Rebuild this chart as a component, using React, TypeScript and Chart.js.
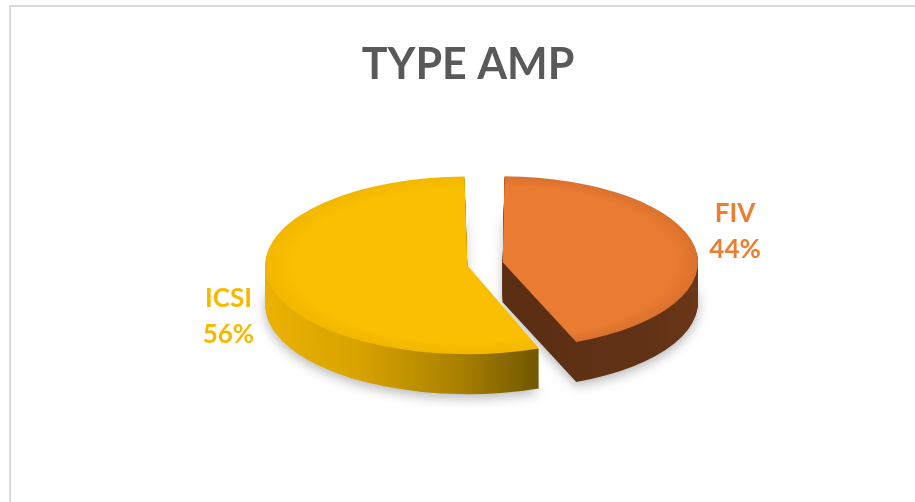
import React, { useEffect, useRef } from 'react';
import { Chart, registerables } from 'chart.js';

Chart.register(...registerables);

const chartTitle = 'TYPE AMP';
const categories = ['FIV', 'ICSI'];
const values = [44, 56];
const topColors = ['#E97B32', '#F9BF00'];
const rimColors = ['#D46C2C', '#F2B600'];
const labelColors = ['#ED7D31', '#F7B900'];

const TILT = 0.44;
const DEPTH = 40;
const PIE_SHIFT_X = 17;
const LABEL_GAP = 15;
const LABEL_Y = 0.9;

function sideFill(ctx: CanvasRenderingContext2D, i: number, cx: number, r: number) {
  if (i === 0) {
    const g = ctx.createLinearGradient(cx, 0, cx + r + 30, 0);
    g.addColorStop(0, '#5A2E13');
    g.addColorStop(0.7, '#623216');
    g.addColorStop(1, '#70391A');
    return g;
  }
  const g = ctx.createLinearGradient(cx - r - 30, 0, cx + 80, 0);
  g.addColorStop(0, '#EDB400');
  g.addColorStop(0.35, '#D9A300');
  g.addColorStop(0.7, '#A98000');
  g.addColorStop(1, '#6A5200');
  return g;
}

const pie3d = {
  id: 'pie3d',
  beforeDatasetsDraw(chart: any) {
    const ctx: CanvasRenderingContext2D = chart.ctx;
    const arcs = chart.getDatasetMeta(0).data as any[];
    ctx.save();
    if (!arcs.length) return;
    const cx = arcs[0].x;
    const cy = arcs[0].y;
    ctx.translate(cx + PIE_SHIFT_X, cy);
    ctx.scale(1, TILT);
    ctx.translate(-cx, -cy);
    const fills = arcs.map((a, i) => sideFill(ctx, i, cx, a.outerRadius));
    for (let d = DEPTH; d >= 1; d--) {
      arcs.forEach((arc, i) => {
        const o = arc.options;
        ctx.save();
        ctx.translate(0, d / TILT);
        if (d === DEPTH) {
          ctx.shadowColor = 'rgba(0,0,0,0.28)';
          ctx.shadowBlur = 12;
          ctx.shadowOffsetY = 4;
        }
        arc.options = { ...o, backgroundColor: fills[i], borderWidth: 0 };
        arc.draw(ctx);
        arc.options = o;
        ctx.restore();
      });
    }
  },
  afterDatasetsDraw(chart: any) {
    const ctx: CanvasRenderingContext2D = chart.ctx;
    ctx.restore();
    const arcs = chart.getDatasetMeta(0).data as any[];
    const total = values.reduce((a, b) => a + b, 0);
    ctx.save();
    ctx.font = 'bold 26px Lato';
    ctx.textAlign = 'center';
    ctx.textBaseline = 'middle';
    arcs.forEach((arc, i) => {
      const mid = (arc.startAngle + arc.endAngle) / 2;
      const shift = (arc.options.offset || 0) / 4;
      const drawnR = arc.outerRadius + shift * (1 - Math.sin(Math.min(Math.PI, arc.circumference)));
      const dist = drawnR + LABEL_GAP;
      const vx = arc.x + PIE_SHIFT_X + Math.cos(mid) * shift;
      const vy = arc.y + Math.sin(mid) * shift * TILT;
      const line1 = categories[i];
      const line2 = Math.round((values[i] / total) * 100) + '%';
      const half = Math.max(ctx.measureText(line1).width, ctx.measureText(line2).width) / 2;
      const x = vx + Math.cos(mid) * dist + Math.sign(Math.cos(mid)) * half;
      const y = vy + Math.sin(mid) * (dist + 30) * LABEL_Y + DEPTH / 4;
      ctx.fillStyle = labelColors[i];
      ctx.fillText(line1, x, y - 18);
      ctx.fillText(line2, x, y + 18);
    });
    ctx.restore();
  },
};

export default function App() {
  const ref = useRef<HTMLCanvasElement>(null);
  useEffect(() => {
    if (!ref.current) return;
    const chart = new Chart(ref.current, {
      type: 'pie',
      data: {
        labels: categories,
        datasets: [
          {
            data: values,
            backgroundColor: (c: any) => {
              const area = c.chart.chartArea;
              const i = c.dataIndex ?? 0;
              if (!area) return topColors[i];
              const cx = (area.left + area.right) / 2;
              const cy = (area.top + area.bottom) / 2;
              const g = c.chart.ctx.createRadialGradient(cx, cy, 0, cx, cy, 205);
              g.addColorStop(0, topColors[i]);
              g.addColorStop(0.85, topColors[i]);
              g.addColorStop(1, rimColors[i]);
              return g;
            },
            borderWidth: 0,
            offset: 72,
            hoverOffset: 72,
            radius: 184,
            clip: false,
          } as any,
        ],
      },
      options: {
        responsive: false,
        animation: false,
        events: [],
        layout: { padding: { left: 21, right: 0, top: 0, bottom: 65 } },
        plugins: {
          legend: { display: false },
          tooltip: { enabled: false },
          title: {
            display: true,
            text: chartTitle,
            color: '#595959',
            font: { family: 'Lato', size: 43, weight: 'bold', lineHeight: 1.2 },
            padding: { top: 39, bottom: 0 },
          },
        },
      },
      plugins: [pie3d],
    });
    return () => chart.destroy();
  }, []);

  return (
    <div style={{ position: 'absolute', left: 0, top: 0, width: 915, height: 502, overflow: 'hidden', background: '#fff' }}>
      <canvas ref={ref} width={915} height={502} style={{ display: 'block', position: 'absolute', left: 0, top: 0 }} />
      <div
        style={{
          position: 'absolute',
          left: 9,
          top: 5,
          width: 1200,
          height: 1200,
          borderLeft: '2px solid #D9D9D9',
          borderTop: '2px solid #D9D9D9',
          pointerEvents: 'none',
        }}
      />
    </div>
  );
}
